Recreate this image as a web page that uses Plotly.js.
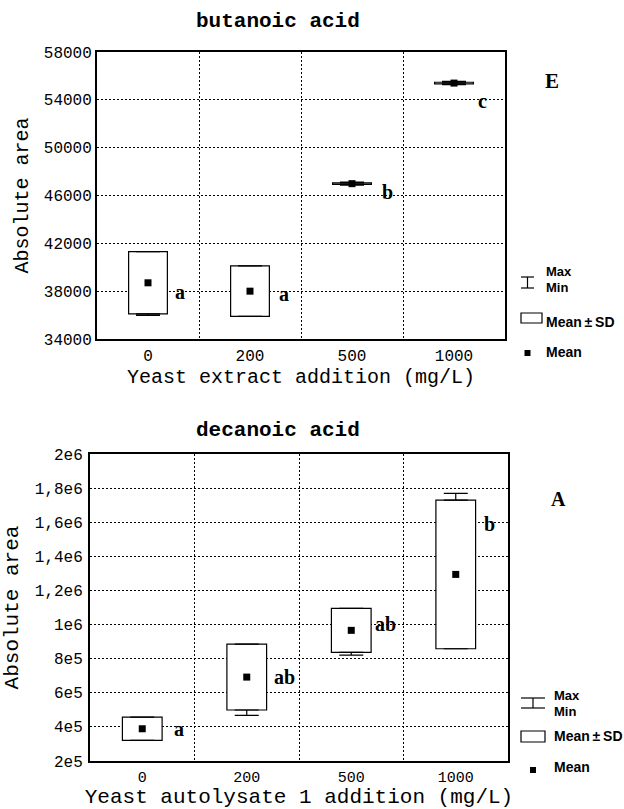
<!DOCTYPE html>
<html><head><meta charset="utf-8">
<script src="https://cdn.plot.ly/plotly-3.0.1.min.js"></script>
<style>html,body{margin:0;padding:0;background:#fff}#chart{width:624px;height:809px}</style>
</head><body><div id="chart"></div>
<script>
// ---- data ----
const categories = ['0', '200', '500', '1000'];

const butMean = [38700, 38000, 46990, 55400];
const butSD = [2600, 2110, 60, 70];
const butMin = [35980, 36300, 46860, 55260];
const butMax = [40500, 39800, 47120, 55540];
const butLetters = ['a', 'a', 'b', 'c'];
const butYTicks = [34000, 38000, 42000, 46000, 50000, 54000, 58000];
const butYTickText = ['34000', '38000', '42000', '46000', '50000', '54000', '58000'];

const decMean = [389000, 692000, 966000, 1294000];
const decSD = [68000, 193000, 129000, 436000];
const decMin = [340000, 468000, 821000, 1000000];
const decMax = [458000, 800000, 1050000, 1769000];
const decLetters = ['a', 'ab', 'ab', 'b'];
const decYTicks = [200000, 400000, 600000, 800000, 1000000, 1200000, 1400000, 1600000, 1800000, 2000000];
const decYTickText = ['2e5', '4e5', '6e5', '8e5', '1e6', '1,2e6', '1,4e6', '1,6e6', '1,8e6', '2e6'];

// ---- styling / placement ----
const W = 624, H = 809;
const mono = 'Liberation Mono, Courier New, monospace';
const serif = 'Liberation Serif, Times New Roman, serif';
const sans = 'Liberation Sans, Arial, sans-serif';
const idx = categories.map((c, i) => i);
const between = idx.slice(1).map(i => i - 0.5);
const px = v => v / W;
const py = v => 1 - v / H;

function makeTraces(mean, sd, mn, mx, xa, ya) {
  const lo = mean.map((m, i) => m - sd[i]);
  const hi = mean.map((m, i) => m + sd[i]);
  const zeros = mean.map(() => 0);
  return [
    {type: 'bar', x: idx, base: lo, y: sd.map(s => 2 * s), width: 0.38,
     marker: {color: 'white', line: {color: 'black', width: 1.2}},
     xaxis: xa, yaxis: ya, showlegend: false, hoverinfo: 'skip'},
    {type: 'scatter', mode: 'markers', x: idx, y: hi,
     marker: {size: 1, color: 'rgba(0,0,0,0)'},
     error_y: {type: 'data', symmetric: false, array: mx.map((v, i) => Math.max(0, v - hi[i])),
               arrayminus: zeros, width: 12, thickness: 1.2, color: 'black'},
     xaxis: xa, yaxis: ya, showlegend: false, hoverinfo: 'skip'},
    {type: 'scatter', mode: 'markers', x: idx, y: lo,
     marker: {size: 1, color: 'rgba(0,0,0,0)'},
     error_y: {type: 'data', symmetric: false, array: zeros,
               arrayminus: mn.map((v, i) => Math.max(0, lo[i] - v)), width: 12, thickness: 1.2, color: 'black'},
     xaxis: xa, yaxis: ya, showlegend: false, hoverinfo: 'skip'},
    {type: 'scatter', mode: 'markers', x: idx, y: mean,
     marker: {symbol: 'square', size: 7, color: 'black'},
     xaxis: xa, yaxis: ya, showlegend: false, hoverinfo: 'skip'}
  ];
}

const traces = [].concat(
  makeTraces(butMean, butSD, butMin, butMax, 'x', 'y'),
  makeTraces(decMean, decSD, decMin, decMax, 'x2', 'y2')
);

function xAxis(domain, anchor, title, tsize, ticksize) {
  return {
    domain: domain, anchor: anchor, range: [-0.5, categories.length - 0.5],
    tickmode: 'array', tickvals: idx, ticktext: categories,
    showgrid: false, zeroline: false,
    minor: {tickmode: 'array', tickvals: between, showgrid: true, gridcolor: 'black',
            griddash: '2px,2px', gridwidth: 1, ticks: ''},
    showline: true, linecolor: 'black', linewidth: 2, mirror: true,
    ticks: '', ticklabelstandoff: 1,
    tickfont: {family: mono, size: ticksize, color: 'black'},
    title: {text: title, font: {family: mono, size: tsize, color: 'black'}, standoff: 2},
    fixedrange: true
  };
}
function yAxis(domain, anchor, range, tv, tt, tsize, lstand) {
  return {
    domain: domain, anchor: anchor, range: range,
    tickmode: 'array', tickvals: tv, ticktext: tt,
    showgrid: true, gridcolor: 'black', griddash: '2px,2px', gridwidth: 1, zeroline: false,
    showline: true, linecolor: 'black', linewidth: 2, mirror: true,
    ticks: '', ticklabelstandoff: lstand,
    tickfont: {family: mono, size: 16, color: 'black'},
    title: {text: 'Absolute area', font: {family: mono, size: tsize, color: 'black'}, standoff: 10},
    fixedrange: true
  };
}

const butOffsets = [0.31, 0.33, 0.35, 0.28];
const butShift = [-9, -3, -8, -18];
const decOffsets = [0.35, 0.36, 0.33, 0.32];
const decShift = [0, 0, 6, 50];

const annotations = [];
butLetters.forEach((t, i) => annotations.push({xref: 'x', yref: 'y', x: i + butOffsets[i], y: butMean[i],
  yshift: butShift[i], text: t, showarrow: false, font: {family: serif, size: 20, color: 'black', weight: 'bold'}}));
decLetters.forEach((t, i) => annotations.push({xref: 'x2', yref: 'y2', x: i + decOffsets[i], y: decMean[i],
  yshift: decShift[i], text: t, showarrow: false, font: {family: serif, size: 20, color: 'black', weight: 'bold'}}));

function paperText(x, y, text, font, xanchor) {
  annotations.push({xref: 'paper', yref: 'paper', x: px(x), y: py(y), text: text, showarrow: false,
    xanchor: xanchor || 'center', yanchor: 'middle', font: font});
}
const titleFont = {family: mono, size: 21, color: 'black', weight: 'bold'};
paperText(278, 22, 'butanoic acid', titleFont);
paperText(278, 430, 'decanoic acid', titleFont);
paperText(552, 81, 'E', {family: serif, size: 21, color: 'black', weight: 'bold'});
paperText(558, 499, 'A', {family: serif, size: 20, color: 'black', weight: 'bold'});

const legFont = {family: sans, size: 14, color: 'black', weight: 'bold'};
const smallLegFont = {family: sans, size: 13, color: 'black', weight: 'bold'};
const shapes = [];
function legend(x0, yMax, yMin, capW, boxY0, boxY1, boxW, meanY, textX, tMax, tMin, tSD, tMean) {
  const cx = x0 + capW / 2;
  const line = {color: 'black', width: 1.2};
  shapes.push({type: 'line', xref: 'paper', yref: 'paper', x0: px(x0), x1: px(x0 + capW), y0: py(yMax), y1: py(yMax), line: line});
  shapes.push({type: 'line', xref: 'paper', yref: 'paper', x0: px(x0), x1: px(x0 + capW), y0: py(yMin), y1: py(yMin), line: line});
  shapes.push({type: 'line', xref: 'paper', yref: 'paper', x0: px(cx), x1: px(cx), y0: py(yMax), y1: py(yMin), line: line});
  shapes.push({type: 'rect', xref: 'paper', yref: 'paper', x0: px(x0), x1: px(x0 + boxW), y0: py(boxY1), y1: py(boxY0), line: line, fillcolor: 'white'});
  shapes.push({type: 'rect', xref: 'paper', yref: 'paper', x0: px(cx - 3), x1: px(cx + 3), y0: py(meanY + 3), y1: py(meanY - 3), line: {width: 0}, fillcolor: 'black'});
  paperText(textX, tMax, 'Max', smallLegFont, 'left');
  paperText(textX, tMin, 'Min', smallLegFont, 'left');
  paperText(textX, tSD, 'Mean\u2009±\u2009SD', legFont, 'left');
  paperText(textX, tMean, 'Mean', legFont, 'left');
}
legend(521, 277, 288, 13, 313, 323, 21, 353, 544, 272, 287, 322, 352);
legend(521, 698, 708, 24, 731, 742, 24, 770, 552, 695, 711, 736, 767);

const layout = {
  width: W, height: H, margin: {l: 0, r: 0, t: 0, b: 0},
  paper_bgcolor: 'white', plot_bgcolor: 'white', showlegend: false, barmode: 'overlay',
  xaxis: xAxis([px(97), px(505)], 'y', 'Yeast extract addition (mg/L)', 20, 16),
  yaxis: yAxis([py(339), py(52)], 'x', [34000, 58000], butYTicks, butYTickText, 20, 0),
  xaxis2: xAxis([px(90), px(508)], 'y2', 'Yeast autolysate 1 addition (mg/L)', 21, 15),
  yaxis2: yAxis([py(761), py(454)], 'x2', [200000, 2000000], decYTicks, decYTickText, 21, 2),
  annotations: annotations, shapes: shapes
};
Plotly.newPlot('chart', traces, layout, {staticPlot: true, displayModeBar: false});
</script></body></html>
